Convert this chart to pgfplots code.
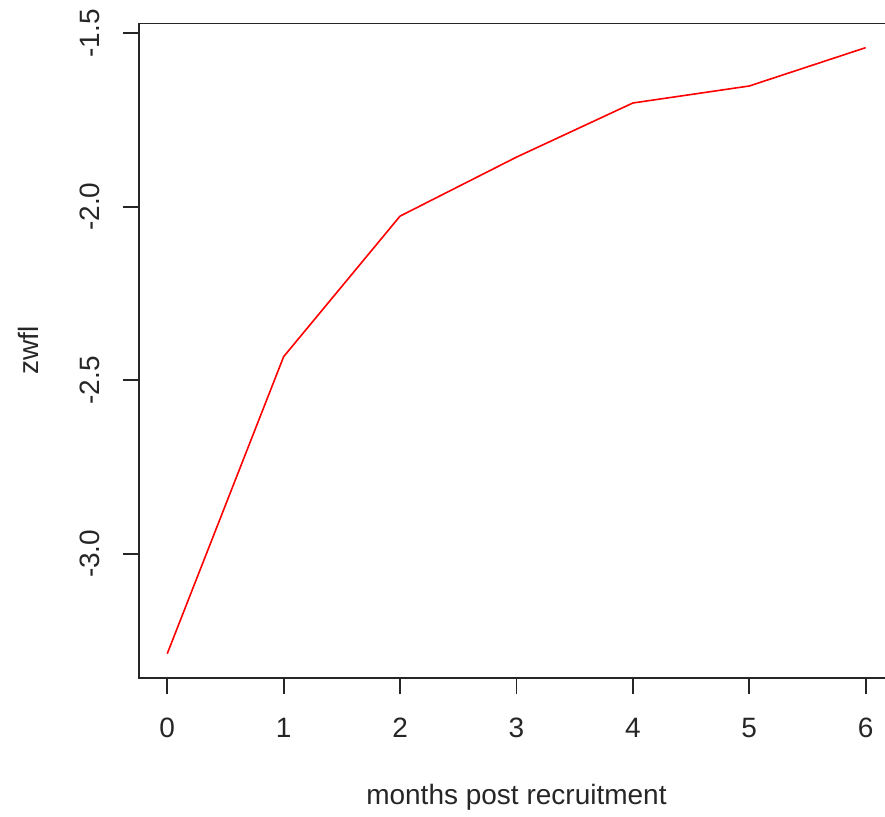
\documentclass[border=0pt]{standalone}
\usepackage{fontspec}
\setmainfont{Liberation Sans}
\usepackage{pgfplots}
\pgfplotsset{compat=1.18}

\begin{document}
\begin{tikzpicture}[x=1pt,y=1pt]
\useasboundingbox (0,0) rectangle (442.5,408);
\clip (0,0) rectangle (442.5,408);
\begin{axis}[
  at={(69.65pt,69pt)}, anchor=south west,
  scale only axis,
  width=377.15pt, height=327.3pt,
  xmin=-0.24, xmax=6.24,
  ymin=-3.358, ymax=-1.4716,
  axis line style={line width=0.9pt, black!85},
  xtick={0,1,2,3,4,5,6},
  xticklabels={0,1,2,3,4,5,6},
  ytick={-3,-2.5,-2,-1.5},
  yticklabels={-3.0,-2.5,-2.0,-1.5},
  xtick pos=bottom, ytick pos=left,
  tick align=outside,
  major tick length=8pt,
  every tick/.style={line width=0.9pt, black!85},
  tick label style={font=\fontsize{14}{16}\selectfont, text=black!85},
  xticklabel style={anchor=center, yshift=-17pt},
  yticklabel style={xshift=-16.6pt, rotate=90, anchor=center},
  label style={font=\fontsize{14}{16}\selectfont, text=black!85},
  xlabel={months post recruitment},
  ylabel={zwfl},
  x label style={at={(axis description cs:0.5,-0.1818)}, anchor=center},
  y label style={at={(axis description cs:-0.1472,0.5)}, anchor=center},
]
\addplot[red, line width=0.8pt, mark=none] coordinates {
  (0,-3.288) (1,-2.432) (2,-2.027) (3,-1.857) (4,-1.701) (5,-1.652) (6,-1.5415)
};
\end{axis}
\end{tikzpicture}
\end{document}
